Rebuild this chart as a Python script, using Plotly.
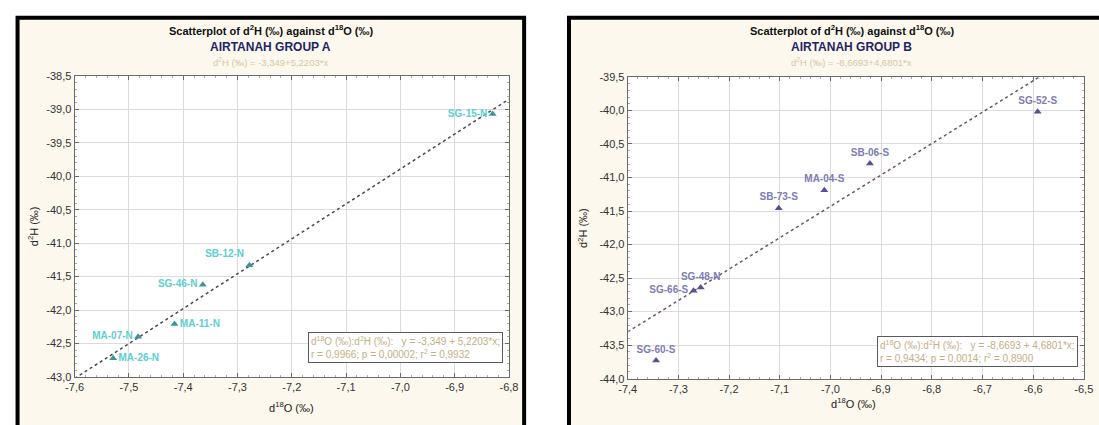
import plotly.graph_objects as go

# ---------------- data ----------------
labels_a = ["SG-15-N", "SB-12-N", "SG-46-N", "MA-11-N", "MA-07-N", "MA-26-N"]
d18o_a = [-6.830, -7.278, -7.364, -7.416, -7.483, -7.529]
d2h_a = [-39.07, -41.33, -41.62, -42.21, -42.40, -42.72]
intercept_a, slope_a = -3.349, 5.2203

labels_b = ["SG-60-S", "SG-66-S", "SG-48-N", "SB-73-S", "MA-04-S", "SB-06-S", "SG-52-S"]
d18o_b = [-7.344, -7.270, -7.256, -7.102, -7.012, -6.922, -6.591]
d2h_b = [-43.73, -42.69, -42.64, -41.46, -41.19, -40.79, -40.02]
intercept_b, slope_b = -8.6693, 4.6801

xtick_a = [-7.6, -7.5, -7.4, -7.3, -7.2, -7.1, -7.0, -6.9, -6.8]
xlab_a = ["-7,6", "-7,5", "-7,4", "-7,3", "-7,2", "-7,1", "-7,0", "-6,9", "-6,8"]
ytick_a = [-43.0, -42.5, -42.0, -41.5, -41.0, -40.5, -40.0, -39.5, -39.0, -38.5]
ylab_a = ["-43,0", "-42,5", "-42,0", "-41,5", "-41,0", "-40,5", "-40,0", "-39,5", "-39,0", "-38,5"]

xtick_b = [-7.4, -7.3, -7.2, -7.1, -7.0, -6.9, -6.8, -6.7, -6.6, -6.5]
xlab_b = ["-7,4", "-7,3", "-7,2", "-7,1", "-7,0", "-6,9", "-6,8", "-6,7", "-6,6", "-6,5"]
ytick_b = [-44.0, -43.5, -43.0, -42.5, -42.0, -41.5, -41.0, -40.5, -40.0, -39.5]
ylab_b = ["-44,0", "-43,5", "-43,0", "-42,5", "-42,0", "-41,5", "-41,0", "-40,5", "-40,0", "-39,5"]

title_main = "Scatterplot of d<sup>2</sup>H (‰) against d<sup>18</sup>O (‰)"
group_a = "AIRTANAH GROUP A"
group_b = "AIRTANAH GROUP B"
eq_a = "d<sup>2</sup>H (‰) = -3,349+5,2203*x"
eq_b = "d<sup>2</sup>H (‰) = -8,6693+4,6801*x"
stats_a = "d<sup>18</sup>O (‰):d<sup>2</sup>H (‰):   y = -3,349 + 5,2203*x;<br>r = 0,9966; p = 0,00002; r<sup>2</sup> = 0,9932"
stats_b = "d<sup>18</sup>O (‰):d<sup>2</sup>H (‰):   y = -8,6693 + 4,6801*x;<br>r = 0,9434; p = 0,0014; r<sup>2</sup> = 0,8900"
xtitle = "d<sup>18</sup>O (‰)"
ytitle = "d<sup>2</sup>H (‰)"

# ---------------- styles ----------------
W, H = 1099, 425
def PX(p): return p / W
def PY(p): return 1 - p / H

pos_a = ["middle left", "top left", "middle left", "middle right", "middle left", "middle right"]
pos_b = ["top center", "middle left", "top center", "top center", "top center", "top center", "top center"]

FONT = "Liberation Sans, Arial"
CREAM = "#fcf8ed"
TAN = "#c4ae86"

fig = go.Figure()

xr_a = [xtick_a[0], xtick_a[-1]]
xr_b = [xtick_b[0], xtick_b[-1]]
fig.add_trace(go.Scatter(x=xr_a, y=[intercept_a + slope_a * v for v in xr_a], mode="lines",
                         line=dict(color="#4a4a4a", width=1.5, dash="dot"),
                         xaxis="x", yaxis="y", showlegend=False, hoverinfo="skip"))
fig.add_trace(go.Scatter(x=xr_b, y=[intercept_b + slope_b * v for v in xr_b], mode="lines",
                         line=dict(color="#74536e", width=1.5, dash="dot"),
                         xaxis="x2", yaxis="y2", showlegend=False, hoverinfo="skip"))

fig.add_trace(go.Scatter(x=d18o_a, y=d2h_a, text=labels_a, mode="markers+text",
                         textposition=pos_a,
                         marker=dict(symbol="triangle-up", size=7, color="#3f959b"),
                         textfont=dict(family=FONT, size=10, color="#5ccfd0", weight="bold"),
                         xaxis="x", yaxis="y", showlegend=False))
fig.add_trace(go.Scatter(x=d18o_b, y=d2h_b, text=labels_b, mode="markers+text",
                         textposition=pos_b,
                         marker=dict(symbol="triangle-up", size=7, color="#5b5191"),
                         textfont=dict(family=FONT, size=10, color="#7d7cb3", weight="bold"),
                         xaxis="x2", yaxis="y2", showlegend=False))

def axis(domain, anchor, tv, tt, mdt, t0):
    return dict(domain=domain, anchor=anchor, range=[tv[0], tv[-1]],
                tickmode="array", tickvals=tv, ticktext=tt,
                showline=True, linecolor="#6b6b6b", linewidth=1, mirror="allticks",
                ticks="inside", ticklen=4, tickcolor="#6b6b6b",
                showgrid=True, gridcolor="#dcdcdc", gridwidth=1, zeroline=False,
                tickfont=dict(family=FONT, size=11, color="#333333"),
                minor=dict(tickmode="linear", tick0=t0, dtick=mdt, ticks="inside",
                           ticklen=2, tickcolor="#aaaaaa", showgrid=False))

fig.update_layout(
    width=W, height=H, margin=dict(l=0, r=0, t=0, b=0),
    paper_bgcolor="white", plot_bgcolor="white",
    xaxis=axis([PX(66.7), PX(508.3)], "y", xtick_a, xlab_a, 0.02, -7.6),
    yaxis=axis([PY(381.7), PY(72)], "x", ytick_a, ylab_a, 0.1, -43.0),
    xaxis2=axis([PX(629), PX(1092.7)], "y2", xtick_b, xlab_b, 0.02, -7.4),
    yaxis2=axis([PY(383.5), PY(73)], "x2", ytick_b, ylab_b, 0.1, -44.0),
)

shapes = [
    dict(type="rect", xref="paper", yref="paper", x0=PX(8.7), x1=PX(523.7), y0=-0.2, y1=PY(12),
         fillcolor=CREAM, line=dict(color="black", width=4), layer="below"),
    dict(type="rect", xref="paper", yref="paper", x0=PX(569.3), x1=PX(1130), y0=-0.2, y1=PY(12),
         fillcolor=CREAM, line=dict(color="black", width=4), layer="below"),
    dict(type="rect", xref="x domain", yref="y domain", x0=0, x1=1, y0=0, y1=1,
         fillcolor="white", line=dict(width=0), layer="below"),
    dict(type="rect", xref="x2 domain", yref="y2 domain", x0=0, x1=1, y0=0, y1=1,
         fillcolor="white", line=dict(width=0), layer="below"),
]
fig.update_layout(shapes=shapes)

def note(x, y, text, font, **kw):
    d = dict(x=PX(x), y=PY(y), xref="paper", yref="paper", text=text, showarrow=False,
             xanchor="center", yanchor="middle", font=font)
    d.update(kw)
    return d

ann = []
for cx, grp, eq in [(266, group_a, eq_a), (857, group_b, eq_b)]:
    ann.append(note(cx, 25, title_main, dict(family=FONT, size=11, color="#111111", weight="bold")))
    ann.append(note(cx, 42, grp, dict(family=FONT, size=12, color="#1f2466", weight="bold")))
    ann.append(note(cx, 58, eq, dict(family=FONT, size=9.5, color="#d6c7a9")))
ann.append(note(287, 413, xtitle, dict(family=FONT, size=11, color="#222222")))
ann.append(note(859, 409, xtitle, dict(family=FONT, size=11, color="#222222")))
ann.append(note(24, 227, ytitle, dict(family=FONT, size=11, color="#222222"), textangle=-90))
ann.append(note(583, 228, ytitle, dict(family=FONT, size=11, color="#222222"), textangle=-90))
ann.append(note(502.7, 367.7, stats_a, dict(family=FONT, size=10, color=TAN),
                xanchor="right", yanchor="bottom", align="left", bgcolor="white",
                bordercolor="#5a5a5a", borderwidth=1, borderpad=2))
ann.append(note(1086.7, 371.7, stats_b, dict(family=FONT, size=10, color=TAN),
                xanchor="right", yanchor="bottom", align="left", bgcolor="white",
                bordercolor="#5a5a5a", borderwidth=1, borderpad=2))
fig.update_layout(annotations=ann)

fig.write_html("out.html")
